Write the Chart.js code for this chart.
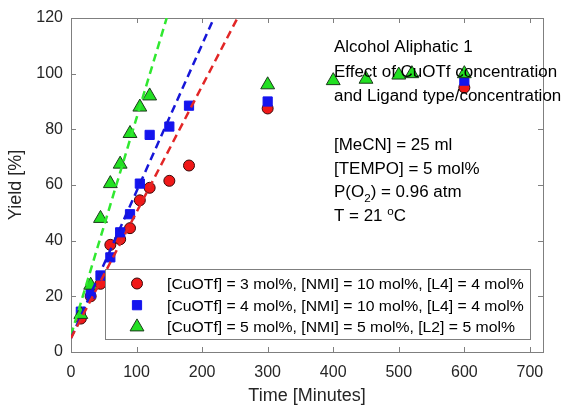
<!DOCTYPE html>
<html>
<head>
<meta charset="utf-8">
<script src="https://cdn.jsdelivr.net/npm/chart.js@4.4.0/dist/chart.umd.min.js"></script>
<style>
    html, body { margin: 0; padding: 0; background: #fff; }
    #yieldChart { display: block; }
</style>
</head>
<body>
<canvas id="yieldChart" width="570" height="408"></canvas>
<script>
// yield vs time for the three catalyst loadings
const timeCu3 = [15, 30, 45, 60, 75, 90, 105, 120, 150, 180, 300, 600];
const yieldCu3 = [12, 20, 24.5, 38.5, 40.5, 44.5, 54.5, 59, 61.5, 67, 87.5, 95];

const timeCu4 = [15, 30, 45, 60, 75, 90, 105, 120, 150, 180, 300, 600];
const yieldCu4 = [14.5, 21, 27.5, 34, 43, 49.5, 60.5, 78, 81, 88.5, 90, 97.5];

const timeCu5 = [15, 30, 45, 60, 75, 90, 105, 120, 300, 400, 450, 500, 520, 600];
const yieldCu5 = [13.5, 24, 48, 60.5, 67.5, 78.5, 88, 92, 96, 97.5, 98, 99.5, 100, 100];

// initial rate fits (start / end of each dashed line)
const fitTimeCu3 = [0, 254];
const fitYieldCu3 = [5, 120];
const fitTimeCu4 = [0, 218];
const fitYieldCu4 = [5, 120];
const fitTimeCu5 = [0, 146];
const fitYieldCu5 = [6, 120];

const xTickValues = [0, 100, 200, 300, 400, 500, 600, 700];
const yTickValues = [0, 20, 40, 60, 80, 100, 120];

const seriesLabels = [
    '[CuOTf] = 3 mol%, [NMI] = 10 mol%, [L4] = 4 mol%',
    '[CuOTf] = 4 mol%, [NMI] = 10 mol%, [L4] = 4 mol%',
    '[CuOTf] = 5 mol%, [NMI] = 5 mol%, [L2] = 5 mol%'
];

// text block, pieces marked sub / sup are drawn small
const noteLines = [
    [{ t: 'Alcohol Aliphatic 1' }],
    [{ t: 'Effect of CuOTf concentration' }],
    [{ t: 'and Ligand type/concentration' }],
    null,
    [{ t: '[MeCN] = 25 ml' }],
    [{ t: '[TEMPO] = 5 mol%' }],
    [{ t: 'P(O' }, { t: '2', sub: true }, { t: ') = 0.96 atm' }],
    [{ t: 'T = 21 ' }, { t: 'o', sup: true }, { t: 'C' }]
];

const FONT = "'Liberation Sans', Arial, Helvetica, sans-serif";
const AXIS_GREY = '#7f7f7f';
const TEXT_DARK = '#262626';

function toPoints(xs, ys) {
    return xs.map((x, i) => ({ x: x, y: ys[i] }));
}

function drawMarker(ctx, style, x, y, r, fill, edge) {
    ctx.beginPath();
    if (style === 'circle') {
        ctx.arc(x, y, r, 0, Math.PI * 2);
    } else if (style === 'rect') {
        const s = r * Math.SQRT1_2;
        ctx.rect(x - s, y - s, 2 * s, 2 * s);
    } else {
        ctx.moveTo(x, y - r);
        ctx.lineTo(x + r * 0.866, y + r / 2);
        ctx.lineTo(x - r * 0.866, y + r / 2);
        ctx.closePath();
    }
    ctx.fillStyle = fill;
    ctx.fill();
    ctx.lineWidth = 1;
    ctx.strokeStyle = edge;
    ctx.stroke();
}

// box with inward ticks on all four sides
const axesFrame = {
    id: 'axesFrame',
    beforeDatasetsDraw(chart) {
        const { ctx, chartArea: a, scales } = chart;
        const len = 5;
        ctx.save();
        ctx.strokeStyle = AXIS_GREY;
        ctx.lineWidth = 1;
        ctx.strokeRect(a.left + 0.5, a.top + 0.5, a.right - a.left, a.bottom - a.top);
        ctx.beginPath();
        scales.x.ticks.forEach(t => {
            const px = Math.round(scales.x.getPixelForValue(t.value)) + 0.5;
            ctx.moveTo(px, a.bottom);
            ctx.lineTo(px, a.bottom - len);
            ctx.moveTo(px, a.top);
            ctx.lineTo(px, a.top + len);
        });
        scales.y.ticks.forEach(t => {
            const py = Math.round(scales.y.getPixelForValue(t.value)) + 0.5;
            ctx.moveTo(a.left, py);
            ctx.lineTo(a.left + len, py);
            ctx.moveTo(a.right, py);
            ctx.lineTo(a.right - len, py);
        });
        ctx.stroke();
        ctx.restore();
    }
};

const boxLegend = {
    id: 'boxLegend',
    afterDraw(chart) {
        const { ctx, chartArea: a } = chart;
        const left = a.left + 34, top = a.bottom - 83, w = 425, h = 70;
        ctx.save();
        ctx.fillStyle = '#fff';
        ctx.fillRect(left, top, w, h);
        ctx.strokeStyle = AXIS_GREY;
        ctx.lineWidth = 1;
        ctx.strokeRect(left + 0.5, top + 0.5, w, h);

        const entries = chart.data.datasets.filter(d => d.inLegend);
        entries.forEach((d, i) => {
            const cy = top + 14.5 + i * 21.7;
            drawMarker(ctx, d.pointStyle, left + 32, cy, d.pointRadius, d.backgroundColor, d.borderColor);
            ctx.save();
            ctx.translate(left + 62, cy + 5.4);
            ctx.scale(1.05, 1);
            ctx.font = '15px ' + FONT;
            ctx.fillStyle = '#000';
            ctx.textBaseline = 'alphabetic';
            ctx.fillText(d.label, 0, 0);
            ctx.restore();
        });
        ctx.restore();
    }
};

const noteText = {
    id: 'noteText',
    afterDraw(chart) {
        const { ctx } = chart;
        const x0 = 334;
        const baselines = [52, 76.5, 101, 0, 150, 173.5, 197, 220.5];
        ctx.save();
        ctx.fillStyle = '#000';
        ctx.textBaseline = 'alphabetic';
        noteLines.forEach((line, i) => {
            if (!line) return;
            ctx.save();
            ctx.translate(x0, baselines[i]);
            ctx.scale(1.06, 1);
            let x = 0;
            line.forEach(part => {
                let dy = 0;
                if (part.sub) { ctx.font = '11px ' + FONT; dy = 5; }
                else if (part.sup) { ctx.font = '11px ' + FONT; dy = -6; }
                else { ctx.font = '16px ' + FONT; }
                ctx.fillText(part.t, x, dy);
                x += ctx.measureText(part.t).width;
            });
            ctx.restore();
        });
        ctx.restore();
    }
};

function fitLine(xs, ys, color) {
    return {
        type: 'line',
        data: toPoints(xs, ys),
        borderColor: color,
        borderWidth: 2.5,
        borderDash: [8, 5],
        pointRadius: 0,
        fill: false,
        order: 0
    };
}

const ctx = document.getElementById('yieldChart').getContext('2d');

new Chart(ctx, {
    type: 'scatter',
    data: {
        datasets: [
            {
                label: seriesLabels[0],
                data: toPoints(timeCu3, yieldCu3),
                pointStyle: 'circle',
                pointRadius: 5.5,
                backgroundColor: '#f01818',
                borderColor: '#3a0a0a',
                borderWidth: 1,
                inLegend: true,
                order: 3
            },
            {
                label: seriesLabels[1],
                data: toPoints(timeCu4, yieldCu4),
                pointStyle: 'rect',
                pointRadius: 6.5,
                backgroundColor: '#1414ee',
                borderColor: '#1414ee',
                borderWidth: 1,
                inLegend: true,
                order: 2
            },
            {
                label: seriesLabels[2],
                data: toPoints(timeCu5, yieldCu5),
                pointStyle: 'triangle',
                pointRadius: 8,
                backgroundColor: '#22e022',
                borderColor: '#1c3a1c',
                borderWidth: 1,
                inLegend: true,
                order: 1
            },
            fitLine(fitTimeCu3, fitYieldCu3, '#e22626'),
            fitLine(fitTimeCu4, fitYieldCu4, '#1616d8'),
            fitLine(fitTimeCu5, fitYieldCu5, '#30e830')
        ]
    },
    options: {
        responsive: false,
        animation: false,
        devicePixelRatio: 1,
        layout: {
            padding: { top: 18, right: 27, left: 0, bottom: 0 }
        },
        plugins: {
            legend: { display: false },
            tooltip: { enabled: false }
        },
        scales: {
            x: {
                type: 'linear',
                min: 0,
                max: 720,
                afterBuildTicks: scale => {
                    scale.ticks = xTickValues.map(v => ({ value: v }));
                },
                afterFit: scale => { scale.height = 56; },
                ticks: {
                    padding: 11,
                    maxRotation: 0,
                    autoSkip: false,
                    color: TEXT_DARK,
                    font: { family: FONT, size: 16 }
                },
                grid: { display: false, drawTicks: false },
                border: { display: false },
                title: {
                    display: true,
                    text: 'Time [Minutes]',
                    color: TEXT_DARK,
                    padding: { top: 0, bottom: 1 },
                    font: { family: FONT, size: 18 }
                }
            },
            y: {
                min: 0,
                max: 120,
                afterBuildTicks: scale => {
                    scale.ticks = yTickValues.map(v => ({ value: v }));
                },
                afterFit: scale => { scale.width = 71; },
                ticks: {
                    padding: 8,
                    autoSkip: false,
                    color: TEXT_DARK,
                    font: { family: FONT, size: 16 }
                },
                grid: { display: false, drawTicks: false },
                border: { display: false },
                title: {
                    display: true,
                    text: 'Yield [%]',
                    color: TEXT_DARK,
                    padding: { top: 5, bottom: 0 },
                    font: { family: FONT, size: 18 }
                }
            }
        }
    },
    plugins: [axesFrame, boxLegend, noteText]
});
</script>
</body>
</html>
